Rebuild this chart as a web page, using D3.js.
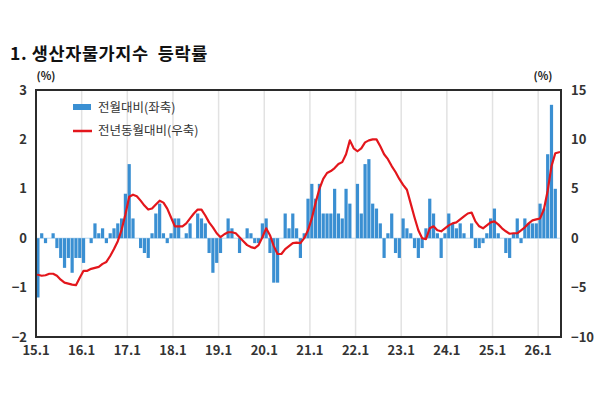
<!DOCTYPE html>
<html><head><meta charset="utf-8">
<script src="https://cdn.jsdelivr.net/npm/d3@7"></script>
<style>
html,body{margin:0;padding:0;background:#fff;}
svg{display:block;}
text{font-family:"Noto Sans CJK KR","Noto Sans",sans-serif;}
</style></head>
<body>
<svg id="chart" width="600" height="400"></svg>
<script>
// ---- data ----
const years = [15,16,17,18,19,20,21,22,23,24,25,26];
const months = [];
years.forEach(y => { for (let m = 1; m <= 12; m++) { if (y === 26 && m > 6) break; months.push(y + "." + m); } });

// 전월대비 (좌축, %)
const momChange = [
  -1.2, 0.1, -0.1, 0.0, 0.1, -0.2, -0.4, -0.6, -0.4, -0.7, -0.4, -0.4,
  -0.5, 0.0, -0.1, 0.3, 0.1, 0.2, -0.1, 0.1, 0.2, 0.3, 0.4, 0.9,
  1.5, 0.4, 0.0, -0.2, -0.3, -0.4, 0.1, 0.5, 0.7, 0.1, -0.1, 0.1,
  0.4, 0.4, 0.0, 0.1, 0.3, 0.0, 0.5, 0.4, 0.3, -0.3, -0.7, -0.5,
  -0.3, 0.0, 0.4, 0.2, 0.0, -0.3, 0.0, 0.2, 0.1, -0.1, -0.1, 0.3,
  0.4, -0.3, -0.9, -0.9, 0.0, 0.5, 0.2, 0.5, 0.2, -0.4, 0.1, 0.8,
  1.1, 0.8, 1.1, 0.5, 0.5, 0.5, 1.0, 0.5, 0.4, 1.0, 0.7, 0.0,
  1.1, 0.5, 1.5, 1.6, 0.7, 0.6, 0.3, -0.4, 0.1, 0.5, -0.3, -0.4,
  0.4, 0.2, 0.1, -0.2, -0.4, -0.2, 0.2, 0.8, 0.5, 0.1, -0.4, 0.1,
  0.5, 0.3, 0.2, 0.3, 0.1, 0.0, 0.3, -0.2, -0.2, -0.1, 0.1, 0.4,
  0.6, 0.1, 0.0, -0.3, -0.4, 0.1, 0.4, -0.1, 0.4, 0.3, 0.3, 0.3,
  0.7, 0.6, 1.7, 2.7, 1.0, 0.0
];

// 전년동월대비 (우축, %)
const yoyChange = [
  -3.7, -3.8, -3.75, -3.6, -3.6, -3.8, -4.2, -4.5, -4.6, -4.7, -4.75, -4.0,
  -3.3, -3.3, -3.1, -3.0, -2.9, -2.6, -2.4, -1.8, -1.1, -0.3, 0.85, 2.4,
  4.2, 4.4, 4.25, 3.8, 3.3, 2.9, 3.0, 3.4, 3.8, 3.6, 3.0, 2.1,
  1.2, 1.2, 1.2, 1.5, 2.0, 2.5, 2.9, 2.9, 2.3, 1.6, 1.1, 0.5,
  0.1, 0.4, 0.6, 0.6, 0.5, 0.1, -0.3, -0.7, -0.9, -1.0, -0.7, 0.1,
  1.0, 0.3, -0.8, -1.6, -1.6, -1.1, -0.8, -0.5, -0.45, -0.5, 0.0, 0.8,
  2.0, 3.6, 5.0, 6.0, 6.6, 6.8, 7.1, 7.5, 7.7, 8.5, 9.9, 9.1,
  8.8, 9.1, 9.7, 9.9, 10.0, 10.0, 9.3, 8.5, 8.0, 7.3, 6.7, 6.0,
  5.4, 4.9, 3.5, 2.1, 0.8, 0.0, -0.1, 1.0, 1.2, 0.8, 0.7, 1.0,
  1.3, 1.5, 1.6, 1.9, 2.2, 2.5, 2.6, 1.7, 1.2, 1.0, 1.3, 1.6,
  1.7, 1.4, 1.0, 0.7, 0.45, 0.5, 0.5, 0.8, 1.1, 1.5, 1.8, 1.9,
  2.0, 2.9, 4.8, 7.3, 8.6, 8.7
];

const xTickLabels = ["15.1","16.1","17.1","18.1","19.1","20.1","21.1","22.1","23.1","24.1","25.1","26.1"];
const leftTicks = [-2, -1, 0, 1, 2, 3];
const rightTicks = [-10, -5, 0, 5, 10, 15];
const titleText = "1. 생산자물가지수  등락률";
const legendLabels = ["전월대비(좌축)", "전년동월대비(우축)"];

// ---- layout ----
const L = 36, R = 561, T = 90, B = 337;
const barColor = "#3a8fd2", lineColor = "#e3161c", textColor = "#333";

const svg = d3.select("#chart");
const x = d3.scaleBand().domain(months).range([L, R]).padding(0);
const yL = d3.scaleLinear().domain([-2, 3]).range([B, T]);
const yR = d3.scaleLinear().domain([-10, 15]).range([B, T]);
const bw = x.bandwidth();
const fmt = d => d3.format("d")(d);

// title
svg.append("text").attr("x", 10).attr("y", 60)
  .attr("font-size", 17.5).attr("font-weight", 700).attr("fill", "#111")
  .attr("letter-spacing", 0.6)
  .style("white-space", "pre").text(titleText);

// (%) labels
svg.append("text").attr("x", 46).attr("y", 80).attr("text-anchor", "middle")
  .attr("font-size", 11).attr("font-weight", 700).attr("fill", "#222").text("(%)");
svg.append("text").attr("x", 543).attr("y", 80).attr("text-anchor", "middle")
  .attr("font-size", 11).attr("font-weight", 700).attr("fill", "#222").text("(%)");

// vertical gridlines
svg.append("g").selectAll("line").data(xTickLabels.slice(1)).join("line")
  .attr("x1", d => x(d)).attr("x2", d => x(d))
  .attr("y1", T).attr("y2", B)
  .attr("stroke", "#e2e2e2").attr("stroke-width", 1.5);

// zero line
svg.append("line").attr("x1", L).attr("x2", R).attr("y1", yL(0)).attr("y2", yL(0))
  .attr("stroke", "#b9d8f0").attr("stroke-width", 1);

// bars
svg.append("g").selectAll("rect").data(months).join("rect")
  .attr("x", (d) => x(d) + 0.3)
  .attr("width", bw - 0.6)
  .attr("y", (d, i) => yL(Math.max(0, momChange[i])))
  .attr("height", (d, i) => Math.abs(yL(momChange[i]) - yL(0)))
  .attr("fill", barColor);

// line
const line = d3.line()
  .x(d => x(d.m) + bw / 2)
  .y(d => yR(d.v));
svg.append("path")
  .datum(months.map((m, i) => ({ m, v: yoyChange[i] })))
  .attr("d", line)
  .attr("fill", "none").attr("stroke", lineColor).attr("stroke-width", 2.2)
  .attr("stroke-linejoin", "round").attr("stroke-linecap", "round");

// frame
svg.append("rect").attr("x", L).attr("y", T).attr("width", R - L).attr("height", B - T)
  .attr("fill", "none").attr("stroke", "#2b2b2b").attr("stroke-width", 2);

// axes
const gl = svg.append("g").attr("transform", `translate(${L},0)`)
  .call(d3.axisLeft(yL).tickValues(leftTicks).tickSize(0).tickPadding(9).tickFormat(fmt));
const gr = svg.append("g").attr("transform", `translate(${R},0)`)
  .call(d3.axisRight(yR).tickValues(rightTicks).tickSize(0).tickPadding(10).tickFormat(fmt));
const gb = svg.append("g").attr("transform", `translate(${-bw / 2},${B})`)
  .call(d3.axisBottom(x).tickValues(xTickLabels).tickSize(0).tickPadding(9));
[gl, gr, gb].forEach(g => {
  g.select(".domain").remove();
  g.selectAll("text").attr("font-size", 13).attr("font-weight", 600).attr("fill", textColor)
    .style("font-family", '"Noto Sans CJK KR","Noto Sans",sans-serif');
});

// legend
const lg = svg.append("g");
lg.append("rect").attr("x", 73).attr("y", 104).attr("width", 18).attr("height", 6).attr("fill", barColor);
lg.append("text").attr("x", 98).attr("y", 112).attr("font-size", 12.5).attr("fill", textColor).text(legendLabels[0]);
lg.append("line").attr("x1", 73).attr("x2", 92).attr("y1", 131).attr("y2", 131)
  .attr("stroke", lineColor).attr("stroke-width", 2.5);
lg.append("text").attr("x", 98).attr("y", 135).attr("font-size", 12.5).attr("fill", textColor).text(legendLabels[1]);
</script>
</body></html>
